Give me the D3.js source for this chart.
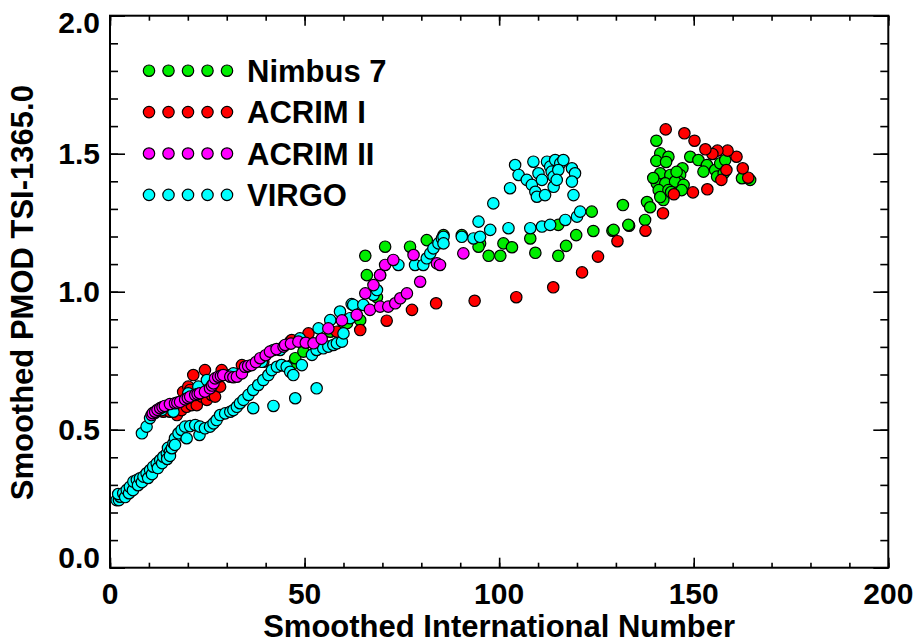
<!DOCTYPE html>
<html>
<head>
<meta charset="utf-8">
<script src="https://cdn.jsdelivr.net/npm/d3@7"></script>
<style>
  body { margin: 0; background: #fff; }
  text { font-family: "Liberation Sans", Arial, Helvetica, sans-serif; font-weight: bold; fill: #000; }
</style>
</head>
<body>
<svg id="chart" width="917" height="644"></svg>
<script>
// Tick labels and legend entries
const xTickLabels = ["0", "50", "100", "150", "200"];
const yTickLabels = ["0.0", "0.5", "1.0", "1.5", "2.0"];
const seriesNames = ["Nimbus 7", "ACRIM I", "ACRIM II", "VIRGO"];
const seriesColors = ["#00ee00", "#ff0000", "#ff00ff", "#00ffff"];

// [smoothed international sunspot number, smoothed PMOD TSI - 1365.0]
const nimbus7 = [[46.7,0.734],[47.6,0.759],[49.7,0.783],[56.6,0.855],[60.0,0.886],[60.9,0.886],[64.3,0.897],[68.6,0.980],[66.0,1.060],[65.6,1.130],[70.7,1.163],[77.1,1.163],[81.4,1.187],[85.7,1.205],[90.4,1.205],[95.1,1.175],[94.7,1.163],[97.3,1.130],[100.3,1.130],[101.1,1.175],[103.3,1.161],[108.0,1.193],[109.3,1.141],[115.2,1.130],[117.2,1.166],[119.8,1.205],[115.2,1.242],[123.8,1.290],[124.2,1.220],[129.1,1.221],[129.4,1.224],[131.8,1.314],[133.4,1.239],[133.2,1.242],[137.5,1.260],[138.0,1.325],[138.8,1.306],[140.4,1.547],[141.4,1.501],[143.5,1.489],[140.4,1.474],[147.1,1.447],[141.4,1.429],[144.0,1.423],[146.5,1.423],[146.1,1.399],[140.5,1.393],[142.7,1.393],[145.2,1.399],[147.4,1.387],[141.0,1.368],[143.5,1.368],[146.9,1.368],[142.2,1.332],[139.6,1.412],[142.9,1.470],[141.4,1.343],[144.2,1.361],[145.6,1.434],[149.1,1.489],[151.2,1.477],[153.4,1.459],[152.5,1.435],[155.5,1.441],[156.8,1.465],[158.1,1.477],[156.0,1.417],[157.7,1.429],[162.4,1.411],[164.5,1.405]];

const acrim1 = [[13.7,0.565],[15.4,0.565],[17.2,0.553],[18.4,0.571],[19.7,0.583],[21.0,0.589],[22.3,0.589],[18.8,0.637],[20.1,0.656],[20.6,0.644],[21.4,0.698],[23.6,0.620],[24.4,0.716],[24.9,0.608],[26.1,0.626],[27.0,0.620],[28.3,0.656],[28.7,0.716],[30.9,0.698],[33.9,0.734],[39.4,0.746],[44.1,0.734],[46.3,0.819],[46.7,0.825],[51.0,0.849],[58.3,0.855],[64.3,0.861],[71.1,0.895],[77.6,0.934],[83.8,0.958],[93.7,0.967],[104.4,0.980],[113.9,1.016],[121.3,1.070],[125.4,1.127],[130.4,1.183],[137.6,1.221],[142.1,1.284],[144.9,1.353],[149.8,1.360],[153.5,1.371],[157.1,1.405],[158.4,1.441],[164.0,1.413],[162.6,1.447],[161.0,1.489],[158.7,1.511],[156.1,1.511],[154.8,1.499],[153.0,1.516],[150.2,1.547],[147.6,1.574],[142.8,1.588]];

const acrim2 = [[10.7,0.553],[11.0,0.560],[11.6,0.565],[12.2,0.572],[12.9,0.578],[13.5,0.582],[14.1,0.586],[15.4,0.593],[16.7,0.596],[17.3,0.598],[18.0,0.601],[19.3,0.610],[20.0,0.615],[20.6,0.620],[21.9,0.626],[22.5,0.629],[23.1,0.632],[24.4,0.638],[25.7,0.650],[26.2,0.660],[26.6,0.668],[27.0,0.686],[27.8,0.692],[28.5,0.695],[29.1,0.698],[30.9,0.692],[31.7,0.690],[32.6,0.692],[33.9,0.704],[34.7,0.728],[35.5,0.731],[36.4,0.734],[37.5,0.745],[38.6,0.759],[40.0,0.770],[41.1,0.783],[42.8,0.792],[44.6,0.801],[45.0,0.807],[46.5,0.812],[48.4,0.819],[50.3,0.815],[52.3,0.813],[54.4,0.829],[56.1,0.867],[59.6,0.896],[63.4,0.916],[66.8,0.934],[69.4,0.946],[71.5,0.946],[73.3,0.958],[74.6,0.976],[76.3,0.994],[79.7,1.036],[65.6,0.994],[67.7,1.024],[69.4,1.060],[70.7,1.097],[72.8,1.115],[78.0,1.133],[84.0,1.103],[84.8,1.097],[90.8,1.139]];

const virgo = [[1.7,0.245],[2.3,0.245],[2.6,0.257],[2.1,0.267],[3.4,0.270],[3.9,0.256],[4.3,0.282],[4.9,0.270],[5.1,0.293],[5.9,0.281],[6.0,0.312],[6.9,0.318],[7.2,0.299],[7.7,0.324],[8.2,0.310],[8.6,0.330],[9.4,0.342],[9.8,0.325],[10.3,0.354],[10.8,0.339],[11.1,0.366],[12.0,0.378],[12.3,0.361],[12.9,0.390],[13.4,0.379],[13.7,0.402],[14.6,0.414],[14.7,0.394],[14.9,0.434],[15.4,0.420],[15.4,0.405],[15.9,0.433],[16.3,0.451],[16.7,0.469],[16.7,0.445],[17.6,0.487],[18.4,0.499],[19.3,0.511],[19.7,0.469],[20.6,0.513],[21.9,0.517],[23.0,0.481],[23.1,0.511],[24.4,0.505],[25.7,0.511],[26.6,0.523],[27.4,0.535],[28.3,0.553],[29.6,0.559],[30.9,0.565],[31.7,0.571],[32.6,0.583],[33.4,0.596],[34.3,0.608],[35.6,0.626],[36.8,0.578],[36.8,0.644],[38.1,0.662],[39.4,0.680],[40.7,0.698],[41.6,0.716],[42.0,0.586],[42.9,0.728],[44.1,0.734],[45.4,0.728],[46.3,0.710],[47.1,0.698],[47.6,0.614],[49.3,0.734],[51.9,0.771],[53.1,0.650],[53.1,0.789],[54.8,0.795],[56.1,0.801],[57.4,0.807],[58.3,0.813],[59.6,0.819],[60.0,0.849],
  [8.2,0.487],[9.4,0.511],[10.3,0.542],[11.6,0.561],[13.3,0.571],[16.3,0.565],[20.1,0.632],[22.7,0.656],[24.9,0.680],[31.7,0.704],[35.1,0.728],[39.0,0.746],[42.0,0.789],[43.7,0.789],[48.8,0.831],[53.6,0.867],[56.6,0.897],[59.1,0.928],[62.1,0.955],[61.7,0.904],[62.5,0.952],[65.1,0.952],[67.7,0.988],[68.6,1.006],[69.4,1.060],[74.1,1.097],[78.4,1.097],[80.5,1.097],[81.4,1.121],[82.3,1.139],[83.1,1.157],[84.4,1.175],[85.3,1.193],[85.7,1.199],[85.7,1.175],[90.4,1.199],[93.4,1.193],[94.7,1.254],[95.1,1.199],[97.7,1.224],[98.5,1.320],[102.4,1.230],[102.8,1.375],[104.1,1.459],[105.0,1.423],[107.1,1.405],[108.4,1.387],[108.8,1.471],[109.3,1.362],[109.7,1.344],[110.1,1.429],[111.0,1.405],[111.8,1.350],[112.3,1.471],[113.1,1.453],[113.5,1.435],[114.0,1.417],[114.0,1.380],[114.4,1.477],[115.7,1.465],[116.5,1.477],[115.2,1.441],[114.8,1.405],[118.7,1.447],[119.5,1.429],[118.7,1.399],[119.1,1.350],[108.0,1.230],[111.0,1.236],[113.1,1.242],[117.0,1.260],[120.0,1.272],[120.8,1.290]];

const svg = d3.select("#chart");
const x = d3.scaleLinear().domain([0, 200]).range([110, 888.3]);
const y = d3.scaleLinear().domain([0, 2]).range([567.7, 15.7]);
const [x0, x1] = x.range();
const [y0, y1] = y.range();

const xMinor = d3.range(0, 201, 10);
const xMajor = xTickLabels.map(Number);
const yMinor = d3.range(0, 21).map(i => i / 10);
const yMajor = yTickLabels.map(Number);

// inward ticks on all four sides
function ticks(gen, tr, values, size) {
  const g = svg.append("g").attr("transform", tr)
    .call(gen.tickValues(values).tickSize(size).tickSizeOuter(0).tickFormat(""));
  g.select(".domain").remove();
  g.selectAll("line").attr("stroke", "#000").attr("stroke-width", 1.6);
}
ticks(d3.axisBottom(x), `translate(0,${y0})`, xMinor, -5);
ticks(d3.axisBottom(x), `translate(0,${y0})`, xMajor, -10);
ticks(d3.axisTop(x), `translate(0,${y1})`, xMinor, -5);
ticks(d3.axisTop(x), `translate(0,${y1})`, xMajor, -10);
ticks(d3.axisLeft(y), `translate(${x0},0)`, yMinor, -8);
ticks(d3.axisLeft(y), `translate(${x0},0)`, yMajor, -15);
ticks(d3.axisRight(y), `translate(${x1},0)`, yMinor, -8);
ticks(d3.axisRight(y), `translate(${x1},0)`, yMajor, -15);

svg.append("rect")
  .attr("x", x0).attr("y", y1).attr("width", x1 - x0).attr("height", y0 - y1)
  .attr("fill", "none").attr("stroke", "#000").attr("stroke-width", 2);

// tick labels
svg.append("g").selectAll("text").data(xTickLabels).join("text")
  .attr("x", d => x(+d)).attr("y", 604)
  .attr("text-anchor", "middle").attr("font-size", 30).text(d => d);

svg.append("g").selectAll("text").data(yTickLabels).join("text")
  .attr("x", 100)
  .attr("y", d => {
    const v = +d;
    if (v === 0) return y(v);            // keep lowest label inside the frame
    if (v === 2) return y(v) + 17.6;     // keep highest label inside the frame
    return y(v) + 10.6;
  })
  .attr("text-anchor", "end").attr("font-size", 30).text(d => d);

// axis titles
svg.append("text")
  .attr("x", (x0 + x1) / 2).attr("y", 637)
  .attr("text-anchor", "middle").attr("font-size", 31)
  .text("Smoothed International Number");

svg.append("text")
  .attr("transform", `translate(33,${(y0 + y1) / 2 + 1}) rotate(-90)`)
  .attr("text-anchor", "middle").attr("font-size", 31)
  .text("Smoothed PMOD TSI-1365.0");

// scatter points; drawing order decides which colour sits on top
const layers = [
  { data: nimbus7, color: seriesColors[0] },
  { data: acrim1, color: seriesColors[1] },
  { data: virgo, color: seriesColors[3] },
  { data: acrim2, color: seriesColors[2] }
];
layers.forEach(l => {
  svg.append("g").selectAll("circle").data(l.data).join("circle")
    .attr("cx", d => x(d[0])).attr("cy", d => y(d[1])).attr("r", 5.7)
    .attr("fill", l.color).attr("stroke", "#000").attr("stroke-width", 1.2);
});

// legend: five dots and a label per instrument
const legend = svg.append("g");
seriesNames.forEach((name, i) => {
  const ry = 70.7 + i * 41.4;
  legend.append("g").selectAll("circle").data(d3.range(5)).join("circle")
    .attr("cx", k => 149 + k * 19.5).attr("cy", ry).attr("r", 5.7)
    .attr("fill", seriesColors[i]).attr("stroke", "#000").attr("stroke-width", 1.2);
  legend.append("text").attr("x", 247).attr("y", ry + 11)
    .attr("font-size", 31).text(name);
});
</script>
</body>
</html>
